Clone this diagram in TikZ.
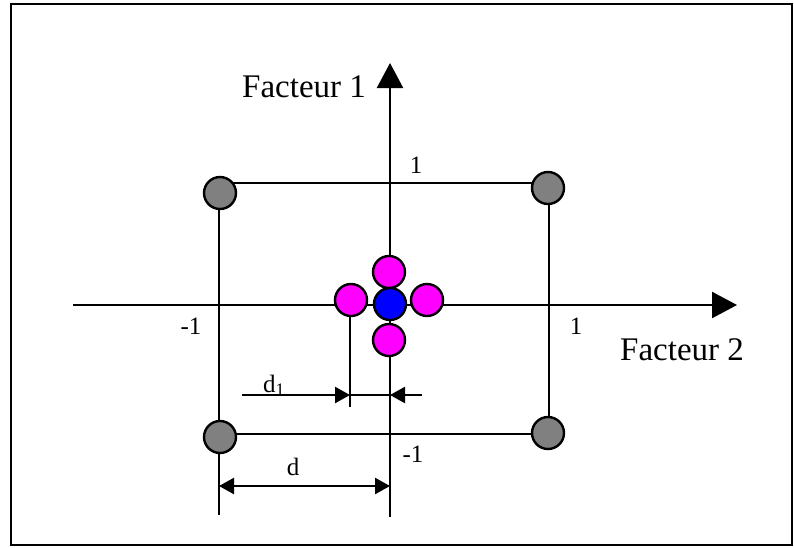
\documentclass[tikz,border=0pt]{standalone}
\usepackage{fontspec}
\setmainfont{Liberation Serif}
\usepackage{xcolor}
\usetikzlibrary{arrows.meta}
\definecolor{cornergray}{RGB}{128, 128, 128}
\definecolor{starpink}{RGB}{255, 0, 255}
\definecolor{centerblue}{RGB}{0, 0, 255}

\tikzset{
  axisline/.style={line width=2.4pt, -{Triangle[length=25pt, width=26pt]}},
  dimline/.style={line width=2.4pt},
  dimtip/.style={-{Triangle[length=15pt, width=16pt]}},
  bothtips/.style={{Triangle[length=15pt, width=16pt]}-{Triangle[length=15pt, width=16pt]}},
  runpoint/.style={circle, draw, line width=2.4pt, minimum size=32pt, inner sep=0pt},
  biglabel/.style={inner sep=0pt, font=\fontsize{33}{33}\selectfont},
  smalllabel/.style={inner sep=0pt, font=\fontsize{25}{25}\selectfont}
}

\begin{document}
\begin{tikzpicture}[x=1pt, y=-1pt]
  \useasboundingbox (0,0) rectangle (794,547);
  % frame
  \draw[line width=2.4pt] (11,4) rectangle (792,545);

  % axes
  \coordinate (xstart) at (73,305);
  \coordinate (xend)   at (737,305);
  \coordinate (ystart) at (390,517);
  \coordinate (yend)   at (390,63);
  \draw[axisline] (xstart) -- (xend);
  \draw[axisline] (ystart) -- (yend);

  % square of the factorial design
  \coordinate (sqtl) at (219,183);
  \coordinate (sqtr) at (549,183);
  \coordinate (sqbl) at (219,434);
  \coordinate (sqbr) at (549,434);
  \coordinate (sqlow) at (219,515);
  \draw[dimline] (sqtl) -- (sqtr) -- (sqbr);
  \draw[dimline] (sqbl) -- (sqbr);
  \draw[dimline] (sqtl) -- (sqlow);

  % distance d1
  \coordinate (dstart) at (242,395);
  \coordinate (dmid)   at (350,395);
  \coordinate (dcent)  at (390,395);
  \coordinate (dend)   at (422,395);
  \coordinate (dtop)   at (350,300);
  \coordinate (dlow)   at (350,407);
  \draw[dimline] (dtop) -- (dlow);
  \draw[dimline, dimtip] (dstart) -- (dmid);
  \draw[dimline] (dmid) -- (dcent);
  \draw[dimline, dimtip] (dend) -- (dcent);

  % distance d
  \coordinate (bigleft)  at (219,486);
  \coordinate (bigright) at (390,486);
  \draw[dimline, bothtips] (bigleft) -- (bigright);

  % corner points
  \node[runpoint, fill=cornergray] (tl) at (220,193) {};
  \node[runpoint, fill=cornergray] (tr) at (548,188) {};
  \node[runpoint, fill=cornergray] (bl) at (220,437) {};
  \node[runpoint, fill=cornergray] (br) at (548,433) {};

  % star and centre points
  \node[runpoint, fill=starpink]   (up) at (389,272) {};
  \node[runpoint, fill=starpink]   (dn) at (389,340) {};
  \node[runpoint, fill=starpink]   (lf) at (351,300) {};
  \node[runpoint, fill=starpink]   (rt) at (427,300) {};
  \node[runpoint, fill=centerblue] (ctr) at (390,304) {};

  % labels
  \node[biglabel, anchor=base west] (f1lab) at (242,97) {Facteur 1};
  \node[biglabel, anchor=base west] (f2lab) at (620,360) {Facteur 2};
  \node[smalllabel, anchor=base] (ytop) at (416,173) {1};
  \node[smalllabel, anchor=base] (ybot) at (413,462) {-1};
  \node[smalllabel, anchor=base] (xleft) at (191,334) {-1};
  \node[smalllabel, anchor=base] (xright) at (576,334) {1};
  \node[smalllabel, anchor=base] (dlab) at (293,475) {d};
  \node[smalllabel, anchor=base] (d1lab) at (274,392) {d\textsubscript{1}};
\end{tikzpicture}
\end{document}
